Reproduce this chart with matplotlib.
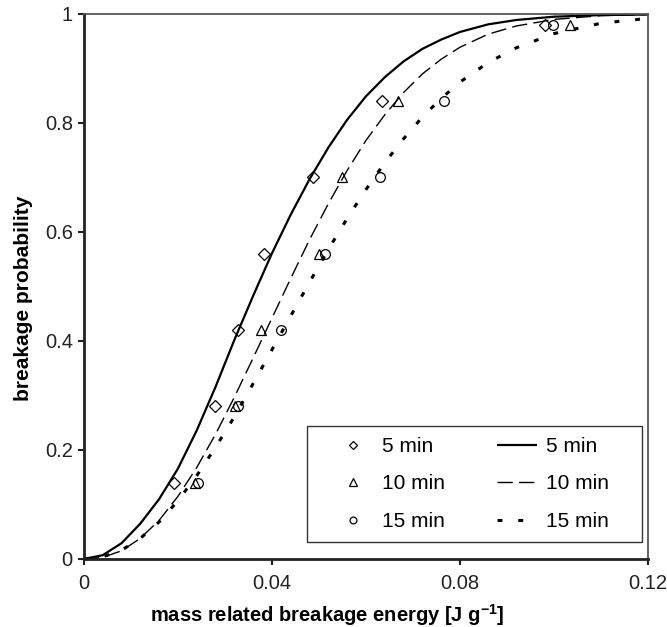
import matplotlib
matplotlib.use('Agg')
import matplotlib.pyplot as plt
from matplotlib.patches import Rectangle

plt.rcParams['font.family'] = ['Liberation Sans', 'DejaVu Sans']
plt.rcParams['mathtext.fontset'] = 'custom'
plt.rcParams['mathtext.rm'] = 'Liberation Sans'
plt.rcParams['mathtext.bf'] = 'Liberation Sans:bold'

# measured breakage probabilities for each grinding time
prob = [0.14, 0.28, 0.42, 0.56, 0.70, 0.84, 0.98]
energy_5 = [0.0192, 0.0278, 0.0327, 0.0382, 0.0487, 0.0634, 0.0980]
energy_10 = [0.0237, 0.0322, 0.0376, 0.0500, 0.0550, 0.0668, 0.1034]
energy_15 = [0.0243, 0.0327, 0.0419, 0.0513, 0.0630, 0.0767, 0.0997]

# fitted distribution curves
fit_x = [0.000, 0.004, 0.008, 0.012, 0.016, 0.020, 0.024, 0.028, 0.032, 0.036,
         0.040, 0.044, 0.048, 0.052, 0.056, 0.060, 0.064, 0.068, 0.072, 0.076,
         0.080, 0.086, 0.092, 0.100, 0.110, 0.120]
fit_5 = [0.000, 0.007, 0.029, 0.065, 0.110, 0.166, 0.236, 0.316, 0.402, 0.483,
         0.561, 0.632, 0.697, 0.755, 0.806, 0.849, 0.884, 0.913, 0.936, 0.953,
         0.967, 0.981, 0.989, 0.995, 0.998, 0.999]
fit_10 = [0.000, 0.003, 0.015, 0.038, 0.071, 0.115, 0.168, 0.229, 0.297, 0.369,
          0.442, 0.515, 0.586, 0.652, 0.713, 0.768, 0.815, 0.856, 0.890, 0.917,
          0.939, 0.963, 0.978, 0.990, 0.997, 0.999]
fit_15 = [0.000, 0.004, 0.016, 0.038, 0.068, 0.107, 0.153, 0.205, 0.261, 0.322,
          0.384, 0.446, 0.508, 0.568, 0.625, 0.678, 0.727, 0.771, 0.811, 0.845,
          0.875, 0.911, 0.938, 0.964, 0.983, 0.992]

labels = ['5 min', '10 min', '15 min']

fig = plt.figure(figsize=(6.67, 6.27), dpi=100)
ax = fig.add_axes([0.1259, 0.1085, 0.8456, 0.8692])

l5, = ax.plot(fit_x, fit_5, color='black', lw=1.6, solid_capstyle='butt')
l10, = ax.plot(fit_x, fit_10, color='black', lw=1.0, dashes=(11, 4.5))
l15, = ax.plot(fit_x, fit_15, color='black', lw=2.2, dashes=(1.6, 5.2))

m5, = ax.plot(energy_5, prob, 'D', ms=6, mfc='none', mec='black', mew=0.9)
m10, = ax.plot(energy_10, prob, '^', ms=7.5, mfc='none', mec='black', mew=0.9)
m15, = ax.plot(energy_15, prob, 'o', ms=7, mfc='none', mec='black', mew=0.9)

ax.set_xlim(0, 0.12)
ax.set_ylim(0, 1)
ax.set_xticks([0, 0.04, 0.08, 0.12])
ax.set_xticklabels(['0', '0.04', '0.08', '0.12'])
ax.set_yticks([0, 0.2, 0.4, 0.6, 0.8, 1])
ax.set_yticklabels(['0', '0.2', '0.4', '0.6', '0.8', '1'])
ax.tick_params(direction='out', length=4.5, width=1.5, labelsize=14.5,
               colors='#222222')
ax.tick_params(axis='x', pad=6)
ax.tick_params(axis='y', pad=3.5)

for side in ['left', 'bottom']:
    ax.spines[side].set_linewidth(2.0)
    ax.spines[side].set_color('#222222')
for side in ['top', 'right']:
    ax.spines[side].set_linewidth(1.3)
    ax.spines[side].set_color('#555555')

ax.set_xlabel(r'mass related breakage energy [J g$^{\mathbf{-1}}$]',
              fontsize=14.5, fontweight='bold')
ax.xaxis.set_label_coords(0.431, -0.079)
ax.set_ylabel('breakage probability', fontsize=15, fontweight='bold')
ax.yaxis.set_label_coords(-0.090, 0.479)

# legend box drawn separately so its padding can be set freely
ax.add_patch(Rectangle((0.3954, 0.0312), 0.594, 0.2128, transform=ax.transAxes,
                       facecolor='white', edgecolor='#333333', lw=1.0,
                       zorder=4))
leg = ax.legend([m5, m10, m15, l5, l10, l15], labels + labels, ncol=2,
                loc='center', bbox_to_anchor=(0.686, 0.1376),
                frameon=False, handlelength=1.9, handletextpad=0.45,
                columnspacing=2.5, labelspacing=0.89, borderpad=0,
                markerscale=0.7, fontsize=15)
leg.set_zorder(5)

fig.savefig('out.png', dpi=100)
